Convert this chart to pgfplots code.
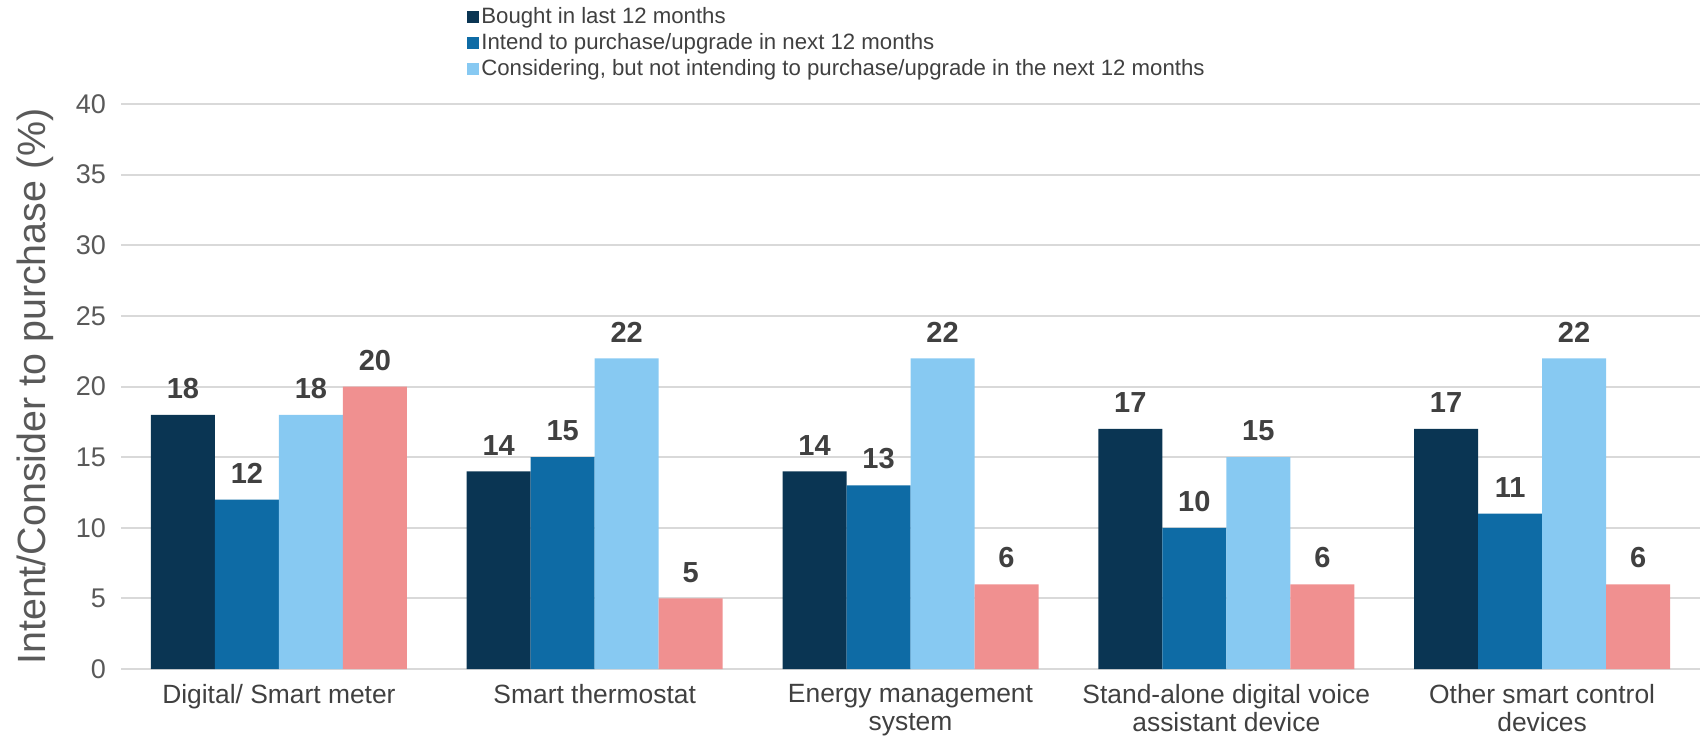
\documentclass[border=0pt]{standalone}
\usepackage{pgfplots}
\pgfplotsset{compat=1.18}
\usepackage{fontspec}
\setmainfont{Liberation Sans}
\definecolor{navy}{HTML}{0A3553}
\definecolor{midblue}{HTML}{0E6BA5}
\definecolor{lightblue}{HTML}{87C9F2}
\definecolor{pinkish}{HTML}{F09090}
\definecolor{gridc}{HTML}{D9D9D9}
\definecolor{txt}{HTML}{404040}
\definecolor{ticktxt}{HTML}{595959}

\begin{document}
\begin{tikzpicture}
\path[use as bounding box] (0,0) rectangle (850pt,372.5pt);
\begin{axis}[
    at={(60.5pt,38pt)}, anchor=south west,
    scale only axis,
    width=789.5pt, height=282.5pt,
    ybar=0pt, bar width=32pt,
    xmin=-0.5, xmax=4.5, ymin=0, ymax=40,
    enlarge x limits=false,
    xtick={0,1,2,3,4},
    xticklabels={{Digital/ Smart meter}, {Smart thermostat}, {Energy management\\system}, {Stand-alone digital voice\\assistant device}, {Other smart control\\devices}},
    xticklabel style={font=\fontsize{13.2}{14}\selectfont, text=txt, align=center, yshift=-4pt},
    ytick={0,5,...,40},
    yticklabel style={font=\fontsize{13.5}{15}\selectfont, text=ticktxt, xshift=-4pt},
    /pgf/number format/assume math mode=true,
    axis line style={draw=none},
    major tick length=0pt,
    ymajorgrids, grid style={line width=1pt, color=gridc},
    ylabel={Intent/Consider to purchase (\%)},
    ylabel style={at={(axis description cs:-0.054,0.5)}, anchor=center, rotate=0,
        font=\fontsize{19.7}{22}\selectfont, text=ticktxt},
    nodes near coords,
    nodes near coords style={font=\fontsize{14.5}{16}\selectfont\bfseries, text=txt, yshift=4.5pt},
    legend style={at={(axis description cs:0.2153,1.183)}, anchor=north west, draw=none, fill=none,
        font=\fontsize{11.1}{12}\selectfont, text=txt, row sep=1.6pt,
        nodes={inner sep=1pt}},
    legend cell align=left,
    legend image code/.code={\fill[#1] (0pt,-3pt) rectangle (6pt,3pt);},
]
\addplot[fill=navy, draw=none] coordinates {(0,18) (1,14) (2,14) (3,17) (4,17)};
\addplot[fill=midblue, draw=none] coordinates {(0,12) (1,15) (2,13) (3,10) (4,11)};
\addplot[fill=lightblue, draw=none] coordinates {(0,18) (1,22) (2,22) (3,15) (4,22)};
\addplot[fill=pinkish, draw=none] coordinates {(0,20) (1,5) (2,6) (3,6) (4,6)};
\legend{Bought in last 12 months, Intend to purchase/upgrade in next 12 months, {Considering, but not intending to purchase/upgrade in the next 12 months}}
\end{axis}
\end{tikzpicture}
\end{document}
